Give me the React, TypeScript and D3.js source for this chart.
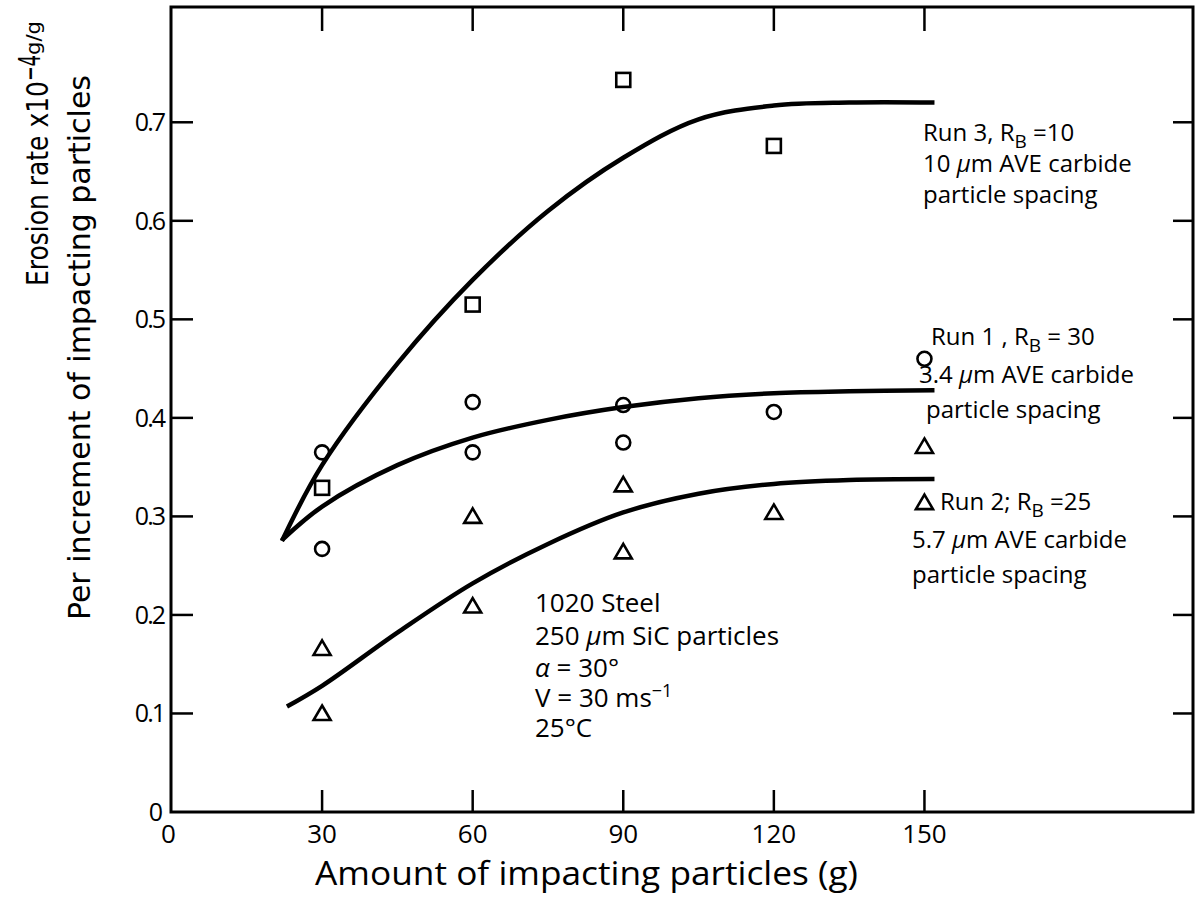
import React from "react";
import * as d3 from "d3";

// ---- data ----
const xTicks = [30, 60, 90, 120, 150];
const yTicks = [0.1, 0.2, 0.3, 0.4, 0.5, 0.6, 0.7];
const yTickLabels = ["0.1", "0.2", "0.3", "0.4", "0.5", "0.6", "0.7"];

// Run 3 (squares)
const run3Points: [number, number][] = [
  [30, 0.329], [60, 0.515], [90, 0.743], [120, 0.676],
];
// Run 1 (circles)
const run1Points: [number, number][] = [
  [30, 0.365], [30, 0.267], [60, 0.416], [60, 0.365], [90, 0.413],
  [90, 0.375], [120, 0.406], [150, 0.46],
];
// Run 2 (triangles)
const run2Points: [number, number][] = [
  [30, 0.166], [30, 0.1], [60, 0.3], [60, 0.209], [90, 0.332],
  [90, 0.264], [120, 0.304], [150, 0.371], [150, 0.314],
];

// fitted curves
const run3Curve: [number, number][] = [
  [22, 0.275], [30, 0.352], [45, 0.455], [60, 0.54], [75, 0.61],
  [90, 0.664], [105, 0.703], [120, 0.717], [135, 0.72], [152, 0.72],
];
const run1Curve: [number, number][] = [
  [22, 0.276], [30, 0.31], [45, 0.352], [60, 0.38], [75, 0.398],
  [90, 0.411], [105, 0.42], [120, 0.425], [135, 0.427], [152, 0.428],
];
const run2Curve: [number, number][] = [
  [23, 0.107], [30, 0.128], [45, 0.182], [60, 0.232], [75, 0.272],
  [90, 0.304], [105, 0.323], [120, 0.333], [135, 0.337], [152, 0.338],
];

const FONT = "'Open Sans', 'DejaVu Sans', sans-serif";
const NARROW = "'Liberation Sans Narrow', 'DejaVu Sans Condensed', 'Roboto', sans-serif";

export default function App() {
  const W = 1199, H = 897;
  const left = 171, right = 1193, top = 7, bottom = 812;
  const x = d3.scaleLinear().domain([0, 203.5]).range([left + 0.5, right]);
  const y = d3.scaleLinear().domain([0, 0.817]).range([bottom, top]);

  const line = d3
    .line<[number, number]>()
    .x((d) => x(d[0]))
    .y((d) => y(d[1]))
    .curve(d3.curveCatmullRom.alpha(0.5));

  const ink = "#000";
  const tri = "M0,-8 L8.5,6.5 L-8.5,6.5 Z";

  return (
    <svg
      width={W}
      height={H}
      style={{ position: "absolute", left: 0, top: 0, background: "#fff" }}
    >
      <rect x={0} y={0} width={W} height={H} fill="#fff" />
      {/* frame */}
      <rect
        x={left}
        y={top}
        width={right - left}
        height={bottom - top}
        fill="none"
        stroke={ink}
        strokeWidth={3}
      />
      {/* y ticks left & right */}
      {yTicks.map((t) => (
        <g key={"yt" + t}>
          <line x1={left} x2={left + 22} y1={y(t)} y2={y(t)} stroke={ink} strokeWidth={2.5} />
          <line x1={right - 20} x2={right} y1={y(t)} y2={y(t)} stroke={ink} strokeWidth={2.5} />
        </g>
      ))}
      {/* x ticks bottom & top */}
      {xTicks.map((t) => (
        <g key={"xt" + t}>
          <line x1={x(t)} x2={x(t)} y1={bottom} y2={bottom - 22} stroke={ink} strokeWidth={2.5} />
          <line x1={x(t)} x2={x(t)} y1={top} y2={top + 24} stroke={ink} strokeWidth={2.5} />
        </g>
      ))}
      {/* y tick labels */}
      <g fontFamily={FONT} fontSize={25} fill={ink}>
        {yTicks.map((t, i) => (
          <text key={"yl" + t} x={left - 7} y={y(t) + 9} textAnchor="end" letterSpacing={-2}>
            {yTickLabels[i]}
          </text>
        ))}
        <text x={left - 8} y={bottom + 9} textAnchor="end">0</text>
      </g>
      {/* x tick labels */}
      <g fontFamily={FONT} fontSize={26} fill={ink} textAnchor="middle">
        <text x={x(0) - 3} y={bottom + 31}>0</text>
        {xTicks.map((t) => (
          <text key={"xl" + t} x={x(t)} y={bottom + 31}>{t}</text>
        ))}
      </g>
      {/* x title */}
      <text
        x={315}
        y={885}
        fontFamily={FONT}
        fontSize={33}
        fill={ink}
        textLength={543}
        lengthAdjust="spacingAndGlyphs"
      >
        Amount of impacting particles (g)
      </text>
      {/* y titles */}
      <g fontFamily={NARROW} fill={ink}>
        <text
          transform="translate(48,286) rotate(-90)"
          fontSize={30}
          textLength={205}
          lengthAdjust="spacingAndGlyphs"
        >
          Erosion rate x10
        </text>
        <text
          transform="translate(40,81) rotate(-90)"
          fontSize={30}
          textLength={26}
          lengthAdjust="spacingAndGlyphs"
        >
          −4
        </text>
        <text
          transform="translate(40,55) rotate(-90)"
          fontSize={19}
          textLength={34}
          lengthAdjust="spacingAndGlyphs"
        >
          g/g
        </text>
        <text
          transform="translate(90,620) rotate(-90)"
          fontSize={30}
          textLength={545}
          lengthAdjust="spacingAndGlyphs"
        >
          Per increment of impacting particles
        </text>
      </g>
      {/* curves */}
      <g fill="none" stroke={ink} strokeWidth={4.5} strokeLinecap="butt">
        <path d={line(run3Curve) || ""} />
        <path d={line(run1Curve) || ""} />
        <path d={line(run2Curve) || ""} />
      </g>
      {/* markers */}
      <g fill="none" stroke={ink} strokeWidth={2.6}>
        {run3Points.map((d, i) => (
          <rect key={"s" + i} x={x(d[0]) - 7} y={y(d[1]) - 7} width={14} height={14} />
        ))}
        {run1Points.map((d, i) => (
          <circle key={"c" + i} cx={x(d[0])} cy={y(d[1])} r={7} />
        ))}
        {run2Points.map((d, i) => (
          <path key={"t" + i} d={tri} transform={`translate(${x(d[0])},${y(d[1])})`} />
        ))}
      </g>
      {/* annotations */}
      <g fontFamily={FONT} fontSize={24} fill={ink}>
        <text x={923} y={141}>
          Run 3, R<tspan dy={7} fontSize={19}>B</tspan>
          <tspan dy={-7}> =10</tspan>
        </text>
        <text x={923} y={172}>
          10 <tspan fontStyle="italic">μ</tspan>m AVE carbide
        </text>
        <text x={923} y={203}>particle spacing</text>

        <text x={931} y={345}>
          Run 1 , R<tspan dy={7} fontSize={19}>B</tspan>
          <tspan dy={-7}> = 30</tspan>
        </text>
        <text x={919} y={383}>
          3.4 <tspan fontStyle="italic">μ</tspan>m AVE carbide
        </text>
        <text x={926} y={418}>particle spacing</text>

        <text x={940} y={510}>
          Run 2; R<tspan dy={7} fontSize={19}>B</tspan>
          <tspan dy={-7}> =25</tspan>
        </text>
        <text x={912} y={548}>
          5.7 <tspan fontStyle="italic">μ</tspan>m AVE carbide
        </text>
        <text x={912} y={583}>particle spacing</text>
      </g>
      <g fontFamily={FONT} fontSize={26} fill={ink}>
        <text x={535} y={612}>1020 Steel</text>
        <text x={535} y={645}>
          250 <tspan fontStyle="italic">μ</tspan>m SiC particles
        </text>
        <text x={535} y={677}>
          <tspan fontStyle="italic">α</tspan> = 30°
        </text>
        <text x={535} y={707}>
          V = 30 ms<tspan dy={-10} fontSize={18}>−1</tspan>
        </text>
        <text x={535} y={737}>25°C</text>
      </g>
    </svg>
  );
}
